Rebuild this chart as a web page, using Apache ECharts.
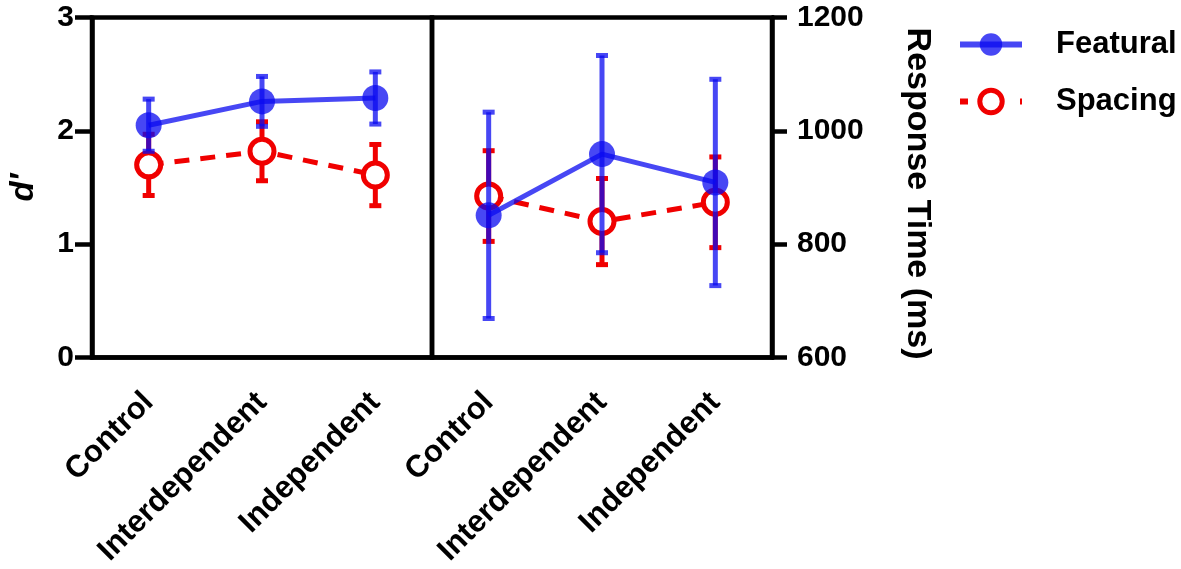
<!DOCTYPE html>
<html>
<head>
<meta charset="utf-8">
<script src="https://cdn.jsdelivr.net/npm/echarts@6/dist/echarts.min.js"></script>
<style>
  html, body { margin: 0; padding: 0; background: #fff; }
  #main { width: 1181px; height: 569px; }
</style>
</head>
<body>
<div id="main"></div>
<script>
// data
var categories = ['Control', 'Interdependent', 'Independent'];
var featuralD = [2.05, 2.26, 2.29];
var featuralDErr = [0.23, 0.22, 0.23];
var spacingD = [1.70, 1.82, 1.61];
var spacingDErr = [0.27, 0.26, 0.27];
var featuralRT = [851, 959, 909];
var featuralRTErr = [182, 174, 182];
var spacingRT = [885, 840, 874];
var spacingRTErr = [80, 76, 80];
var dTicks = [0, 3, 1];      // min, max, step
var rtTicks = [600, 1200, 200];

var BLUE = 'rgba(10,10,240,0.75)';
var RED = '#f00000';
var FONT = 'Liberation Sans';

function errData(mean, err) {
  return mean.map(function (m, i) { return [i, m - err[i], m + err[i]]; });
}

function errorBars(name, xi, yi, data, color, z) {
  return {
    name: name,
    type: 'custom',
    xAxisIndex: xi,
    yAxisIndex: yi,
    z: z,
    data: data,
    renderItem: function (params, api) {
      var lo = api.coord([api.value(0), api.value(1)]);
      var hi = api.coord([api.value(0), api.value(2)]);
      var w = 6;
      var st = { stroke: color, lineWidth: 5, fill: null };
      return {
        type: 'group',
        children: [
          { type: 'line', shape: { x1: lo[0], y1: lo[1], x2: hi[0], y2: hi[1] }, style: st },
          { type: 'line', shape: { x1: lo[0] - w, y1: lo[1], x2: lo[0] + w, y2: lo[1] }, style: st },
          { type: 'line', shape: { x1: hi[0] - w, y1: hi[1], x2: hi[0] + w, y2: hi[1] }, style: st }
        ]
      };
    }
  };
}

function xAx(gi) {
  return {
    type: 'category',
    gridIndex: gi,
    data: categories,
    boundaryGap: true,
    axisLine: { lineStyle: { color: '#000', width: 4.5 } },
    axisTick: { alignWithLabel: true, length: 14, lineStyle: { color: '#000', width: 4.5 } },
    axisLabel: { rotate: 45, margin: 40, color: '#000', fontSize: 31, fontWeight: 'bold', fontFamily: FONT },
    splitLine: { show: false }
  };
}

function yAx(gi, ticks, pos, name, nameGap, nameRotate, nameSize, italic, namePad, labelMargin, tickLen) {
  return {
    type: 'value',
    gridIndex: gi,
    position: pos,
    min: ticks[0],
    max: ticks[1],
    interval: ticks[2],
    name: name,
    nameLocation: 'middle',
    nameGap: nameGap,
    nameRotate: nameRotate,
    nameTextStyle: {
      color: '#000', fontSize: nameSize, fontWeight: 'bold',
      fontStyle: italic ? 'italic' : 'normal', fontFamily: FONT, padding: namePad
    },
    axisLine: { show: true, lineStyle: { color: '#000', width: 4.5 } },
    axisTick: { show: true, length: tickLen, lineStyle: { color: '#000', width: 4.5 } },
    axisLabel: {
      margin: labelMargin, color: '#000', fontSize: 30, fontWeight: 'bold', fontFamily: FONT,
      formatter: function (v) { return String(v); }
    },
    splitLine: { show: false }
  };
}

function redLine(name, xi, yi, data) {
  return {
    name: name, type: 'line', xAxisIndex: xi, yAxisIndex: yi, z: 3,
    data: data,
    symbol: 'circle', symbolSize: 24,
    itemStyle: { color: '#fff', borderColor: RED, borderWidth: 5 },
    lineStyle: { color: RED, width: 5, type: [15, 11] }
  };
}

function blueLine(name, xi, yi, data) {
  return {
    name: name, type: 'line', xAxisIndex: xi, yAxisIndex: yi, z: 6,
    data: data,
    symbol: 'circle', symbolSize: 26,
    itemStyle: { color: BLUE },
    lineStyle: { color: BLUE, width: 5 }
  };
}

var chart = echarts.init(document.getElementById('main'), null, { renderer: 'canvas' });

var option = {
  backgroundColor: '#fff',
  animation: false,
  grid: [
    { left: 92, top: 17.5, width: 340, height: 341, show: true, borderColor: '#000', borderWidth: 4.5, backgroundColor: 'transparent' },
    { left: 432, top: 17.5, width: 340, height: 341, show: true, borderColor: '#000', borderWidth: 4.5, backgroundColor: 'transparent' }
  ],
  legend: {
    left: 957,
    top: 29,
    orient: 'vertical',
    itemWidth: 62,
    itemHeight: 28,
    itemGap: 26,
    padding: 0,
    data: [
      { name: 'Featural', lineStyle: { width: 6, color: BLUE }, itemStyle: { color: BLUE } },
      { name: 'Spacing', lineStyle: { width: 6, color: RED, type: [8, 22] }, itemStyle: { color: '#fff', borderColor: RED, borderWidth: 5 } }
    ],
    textStyle: { color: '#000', fontSize: 31, fontWeight: 'bold', fontFamily: FONT, padding: [0, 0, 0, 29] }
  },
  xAxis: [xAx(0), xAx(1)],
  yAxis: [
    yAx(0, dTicks, 'left', 'd\u2032', 52, 90, 33, true, 0, 18, 17),
    yAx(1, rtTicks, 'right', 'Response Time (ms)', 128, -90, 34, false, [0, 0, 0, 12], 25, 15)
  ],
  series: [
    redLine('Spacing', 0, 0, spacingD),
    blueLine('Featural', 0, 0, featuralD),
    errorBars('Spacing error', 0, 0, errData(spacingD, spacingDErr), RED, 2),
    redLine('Spacing', 1, 1, spacingRT),
    errorBars('Spacing error', 1, 1, errData(spacingRT, spacingRTErr), RED, 2),
    errorBars('Featural error', 0, 0, errData(featuralD, featuralDErr), BLUE, 5),
    errorBars('Featural error', 1, 1, errData(featuralRT, featuralRTErr), BLUE, 5),
    blueLine('Featural', 1, 1, featuralRT)
  ]
};

chart.setOption(option);
</script>
</body>
</html>
